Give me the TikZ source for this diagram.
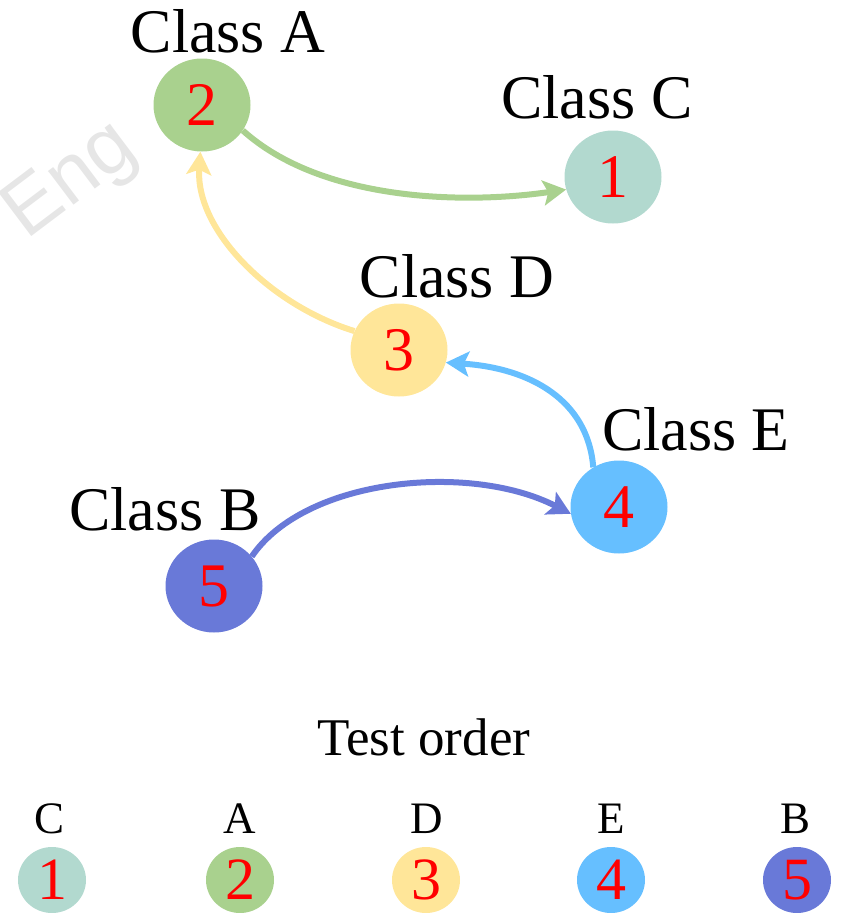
\documentclass[tikz,border=0pt]{standalone}
\usepackage{fontspec}
\setmainfont{Liberation Serif}
\newfontfamily\wmfont{Liberation Sans}
\usetikzlibrary{shapes.geometric,arrows.meta}

\definecolor{colA}{HTML}{A9D18E}
\definecolor{colC}{HTML}{B2D9CF}
\definecolor{colD}{HTML}{FFE699}
\definecolor{colE}{HTML}{66BFFF}
\definecolor{colB}{HTML}{6979D8}
\definecolor{wmgray}{HTML}{E6E6E6}

\tikzset{
  classnode/.style={ellipse, fill=#1, draw=none, inner sep=0pt,
    minimum width=97pt, minimum height=93pt, text=red,
    font=\fontsize{62}{70}\selectfont},
  ordernode/.style={ellipse, fill=#1, draw=none, inner sep=0pt,
    minimum width=68pt, minimum height=66pt, text=red,
    font=\fontsize{60}{68}\selectfont},
  classlabel/.style={anchor=base, inner sep=0pt, font=\fontsize{62}{70}\selectfont},
  orderlabel/.style={anchor=base, inner sep=0pt, font=\fontsize{45}{50}\selectfont},
  link/.style={draw=#1, line width=6pt,
    -{Stealth[length=23pt, width=25pt, inset=5pt]}},
}

\begin{document}
\begin{tikzpicture}[x=1pt, y=-1pt]
  \useasboundingbox (0,0) rectangle (851,913);

  % faint watermark
  \node[text=wmgray, rotate=37, inner sep=0pt,
        font=\wmfont\fontsize{80}{84}\selectfont]
    (wm) at (72,182) {Eng};

  % class nodes
  \node[classnode=colA] (A) at (202,105) {2};
  \node[classnode=colC] (C) at (613,177) {1};
  \node[classnode=colD] (D) at (399,350) {3};
  \node[classnode=colE] (E) at (619,507) {4};
  \node[classnode=colB] (B) at (214,586) {5};

  % class labels
  \node[classlabel] (lA) at (228,52)  {Class A};
  \node[classlabel] (lC) at (597,118) {Class C};
  \node[classlabel] (lD) at (457,297) {Class D};
  \node[classlabel] (lE) at (696,450) {Class E};
  \node[classlabel] (lB) at (165,530) {Class B};

  % dependencies
  \draw[link=colA] (A.-32) .. controls (320,200) and (460,205) .. (C.195);
  \draw[link=colD] (D.157) .. controls (270,305) and (195,230) .. (A.-92);
  \draw[link=colE] (E.123) .. controls (588,400) and (530,368) .. (D.-15);
  \draw[link=colB] (B.38) .. controls (305,478) and (470,462) .. (E.188);

  % test order
  \node[anchor=base, inner sep=0pt, font=\fontsize{53}{60}\selectfont]
    (title) at (424,755) {Test order};

  \node[orderlabel] (oC) at (50,833)  {C};
  \node[orderlabel] (oA) at (240,833) {A};
  \node[orderlabel] (oD) at (427,833) {D};
  \node[orderlabel] (oE) at (611,833) {E};
  \node[orderlabel] (oB) at (795,833) {B};

  \node[ordernode=colC] (n1) at (52,880)  {1};
  \node[ordernode=colA] (n2) at (240,880) {2};
  \node[ordernode=colD] (n3) at (426,880) {3};
  \node[ordernode=colE] (n4) at (611,880) {4};
  \node[ordernode=colB] (n5) at (797,880) {5};
\end{tikzpicture}
\end{document}
